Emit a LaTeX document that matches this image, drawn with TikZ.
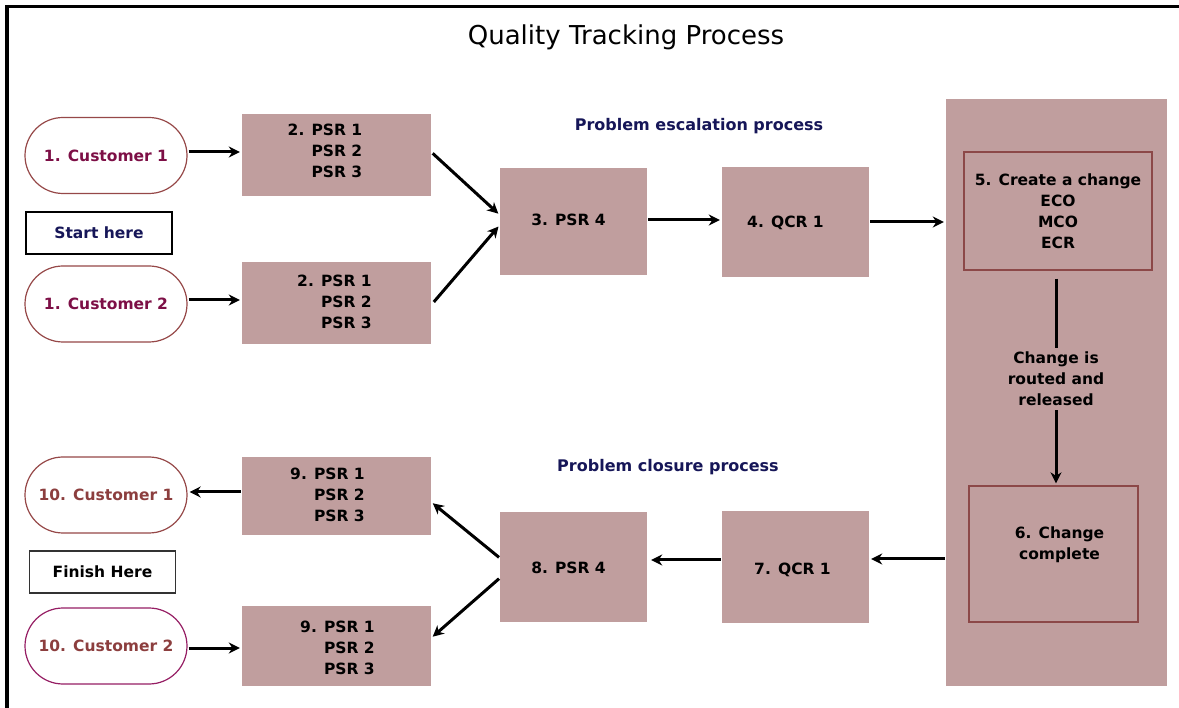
\documentclass[tikz,border=0pt]{standalone}
\usepackage{fontspec}
\setmainfont{DejaVu Sans}
\usetikzlibrary{arrows.meta}

\definecolor{boxfill}{RGB}{192,158,158}
\definecolor{custline}{RGB}{150,72,72}
\definecolor{custlinetwo}{RGB}{150,30,100}
\definecolor{custtext}{RGB}{125,15,70}
\definecolor{endtext}{RGB}{140,62,62}
\definecolor{navytext}{RGB}{22,22,88}
\definecolor{innerline}{RGB}{140,72,72}

\tikzset{
  lbl/.style={font=\fontsize{15.5}{21}\selectfont\bfseries},
  head/.style={font=\fontsize{16}{21}\selectfont\bfseries, text=navytext},
  box/.style={fill=boxfill, draw=none, inner sep=0pt},
  cust/.style={draw=custline, line width=1.2pt, fill=white, rounded corners=38pt,
    minimum width=162pt, minimum height=76pt, inner sep=0pt, lbl},
  tag/.style={draw=black, line width=1.5pt, fill=white, minimum width=146pt,
    minimum height=42pt, inner sep=0pt, lbl},
  inner/.style={draw=innerline, line width=1.3pt, fill=boxfill, inner sep=0pt},
  arr/.style={line width=3pt, -{Stealth[length=11pt,width=11pt,inset=3.5pt]},
    shorten >=2pt, shorten <=1pt},
}

\begin{document}
\begin{tikzpicture}[x=1pt, y=-1pt]
\useasboundingbox (0,0) rectangle (1179,708);
\fill[white] (0,0) rectangle (1179,708);

% frame
\draw[line width=3.5pt] (5,6.5) -- (1179,6.5);
\draw[line width=3.5pt] (7,5) -- (7,708);

% title and section headings
\node (title) at (626,37) {\fontsize{26}{30}\selectfont Quality Tracking Process};
\node[head] (esc) at (699,126) {Problem escalation process};
\node[head] (clo) at (668,467) {Problem closure process};

% customers and markers
\node[cust, text=custtext] (c1) at (106,155.5) {1. Customer 1};
\node[cust, text=custtext] (c2) at (106,304) {1. Customer 2};
\node[tag, text=navytext] (start) at (99,233) {Start here};
\node[cust, text=endtext] (c3) at (106,495) {10. Customer 1};
\node[tag, draw=black!80] (finish) at (102.5,572) {Finish Here};
\node[cust, draw=custlinetwo, text=endtext] (c4) at (106,646) {10. Customer 2};

% PSR boxes
\node[box, minimum width=189pt, minimum height=82pt,
  label={[lbl, align=right, xshift=-11.5pt, yshift=4pt]center:2. PSR 1\\PSR 2\\PSR 3}]
  (b2a) at (336.5,155) {};
\node[box, minimum width=189pt, minimum height=82pt,
  label={[lbl, align=right, xshift=-2pt, yshift=1pt]center:2. PSR 1\\PSR 2\\PSR 3}]
  (b2b) at (336.5,303) {};
\node[box, minimum width=189pt, minimum height=78pt,
  label={[lbl, align=right, xshift=-9pt, yshift=1pt]center:9. PSR 1\\PSR 2\\PSR 3}]
  (b9a) at (336.5,496) {};
\node[box, minimum width=189pt, minimum height=80pt,
  label={[lbl, align=right, xshift=1pt, yshift=-2pt]center:9. PSR 1\\PSR 2\\PSR 3}]
  (b9b) at (336.5,646) {};

\node[box, minimum width=147pt, minimum height=107pt,
  label={[lbl, xshift=-5pt, yshift=1.5pt]center:3. PSR 4}] (b3) at (573.5,221.5) {};
\node[box, minimum width=147pt, minimum height=110pt,
  label={[lbl, xshift=-10pt, yshift=-1pt]center:4. QCR 1}] (b4) at (795.5,222) {};
\node[box, minimum width=147pt, minimum height=110pt,
  label={[lbl, xshift=-5pt, yshift=-1pt]center:8. PSR 4}] (b8) at (573.5,567) {};
\node[box, minimum width=147pt, minimum height=112pt,
  label={[lbl, xshift=-3pt, yshift=-3pt]center:7. QCR 1}] (b7) at (795.5,567) {};

% change panel
\node[box, minimum width=221pt, minimum height=587pt] (panel) at (1056.5,392.5) {};
\node[inner, minimum width=188pt, minimum height=118pt, lbl, align=center]
  (b5) at (1058,211) {5. Create a change\\ECO\\MCO\\ECR};
\node[inner, minimum width=169pt, minimum height=136pt,
  label={[lbl, align=center, xshift=6pt, yshift=9pt]center:6. Change\\complete}]
  (b6) at (1053.5,554) {};

% escalation flow
\draw[arr] (c1.east |- 0,152) -- (b2a.west |- 0,152);
\draw[arr] (c2.east |- 0,300) -- (b2b.west |- 0,300);
\draw[arr, shorten <=2pt] ([yshift=3pt]b2a.east) -- ([yshift=6.5pt]b3.west);
\draw[arr, shorten <=4pt] ([yshift=-2pt]b2b.east) -- ([yshift=-3.5pt]b3.west);
\draw[arr] (b3.east |- 0,220) -- (b4.west |- 0,220);
\draw[arr] (b4.east) -- (b4.east -| panel.west);
\draw[arr, shorten <=8pt] ([xshift=-2pt]b5.south) -- node[fill=boxfill, lbl, align=center,
  inner xsep=2pt, inner ysep=4pt, pos=0.505] (rel) {Change is\\routed and\\released}
  ([xshift=-2pt]b5.south |- b6.north);

% closure flow
\coordinate (b7in) at ([yshift=8pt]b7.east);
\draw[arr] (b7in -| panel.west) -- (b7in);
\draw[arr, shorten >=4pt] ([yshift=7pt]b7.west) -- ([yshift=7pt]b8.east);
\draw[arr] ([yshift=9pt]b8.west) -- ([yshift=-6pt]b9a.east);
\draw[arr] ([yshift=-11pt]b8.west) -- ([yshift=8pt]b9b.east);
\draw[arr] (b9a.west |- 0,492) -- (c3.east |- 0,492);
\draw[arr] (c4.east |- 0,648) -- (b9b.west |- 0,648);
\end{tikzpicture}
\end{document}
